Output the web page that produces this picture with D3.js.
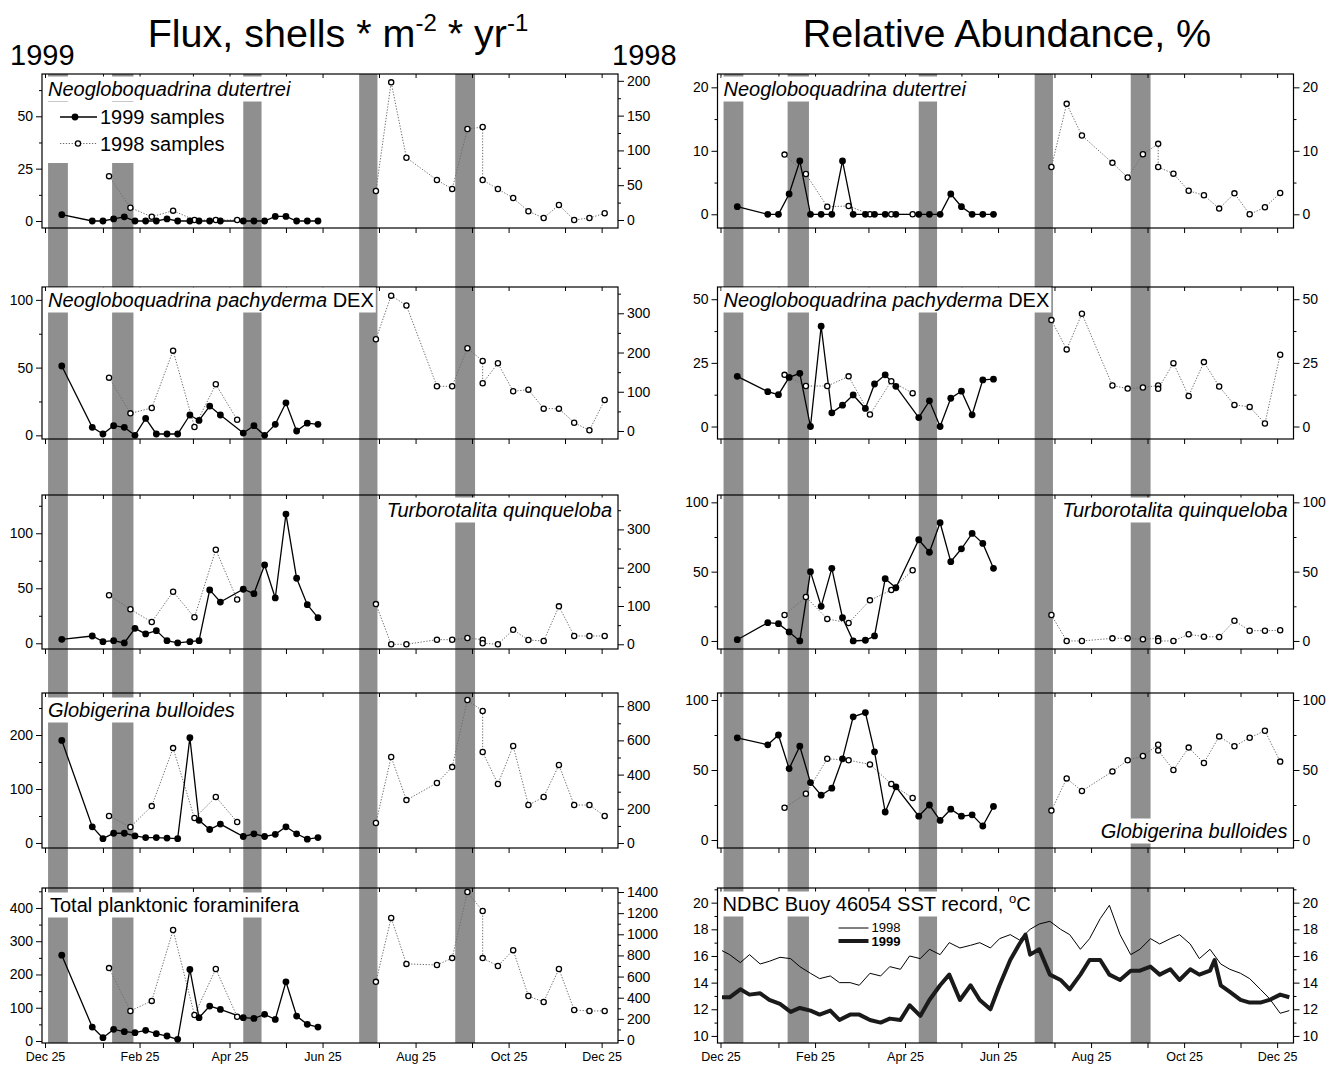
<!DOCTYPE html>
<html>
<head>
<meta charset="utf-8">
<script src="https://cdn.jsdelivr.net/npm/d3@7"></script>
<style>
body{margin:0;background:#fff}
text{font-family:"Liberation Sans",Arial,sans-serif}
</style>
</head>
<body>
<svg id="chart" width="1335" height="1065"></svg>
<script>

var parse = d3.timeParse("%Y-%m-%d");

// sample dates (1999 trap) and 1998 trap, 1998 is moved one year to share the axis
var dates99 = ["1999-01-05","1999-01-25","1999-02-01","1999-02-08","1999-02-15","1999-02-22","1999-03-01","1999-03-08",
	"1999-03-15","1999-03-22","1999-03-30","1999-04-05","1999-04-12","1999-04-19","1999-05-04","1999-05-11",
	"1999-05-18","1999-05-25","1999-06-01","1999-06-08","1999-06-15","1999-06-22"];
var dates98 = ["1998-02-05","1998-02-19","1998-03-05","1998-03-19","1998-04-02","1998-04-16","1998-04-30",
	"1998-07-30","1998-08-09","1998-08-19","1998-09-08","1998-09-18","1998-09-28","1998-10-08","1998-10-08",
	"1998-10-18","1998-10-28","1998-11-07","1998-11-17","1998-11-27","1998-12-07","1998-12-17","1998-12-27"];

// grey bands
var bands = [["1998-12-27","1999-01-09"],["1999-02-07","1999-02-21"],["1999-05-04","1999-05-16"],
	["1999-07-19","1999-07-31"],["1999-09-20","1999-10-03"]];

// flux, shells m-2 yr-1
var dut_flux99 = [3,0,0,1,2,0,0,0,1,0,0,0,0,0,0,0,0,2.2,2.2,0,0,0];
var dut_flux98 = [63,17.7,4.7,13.4,0,0,0,41.7,197.8,89.5,57.5,44.5,130.7,133.6,57.5,44.5,31.6,12.5,2.9,21.6,0,2.9,9.6];
var pac_flux99 = [51.2,5.9,1,7.1,5.9,0,12.5,1,1,1,15,11,21.6,15,1.7,7.1,0,8.1,24,3.2,9,8.1];
var pac_flux98 = [136,45,58.7,204.8,10.2,119,28.8,234,345,320,114,114,211,178.6,121.7,172.7,101.3,105.4,57,57,21.2,1.8,79];
var qui_flux99 = [3.6,6.6,1.5,2.4,0.3,13.6,8.5,11.5,2.4,0.3,1.5,2.4,48.5,37.5,49.1,45.1,71.2,41.2,117.5,59.1,35.1,23.3];
var qui_flux98 = [128,91.4,58.2,137.3,70.5,247,117,105,0,0,12,12,16.4,12,2.6,0,38,11.2,8.6,99,21.7,21.7,21.7];
var bul_flux99 = [190,30,8,18,18,13,10,10,9,8,195,42,25,35,12,17,12,16,30,17,7,10];
var bul_flux98 = [158,94,216,555,146,269,123,117,503,251,351,444,836,772,532,345,567,222,269,456,222,222,158];
var tot_flux99 = [258,42,10,35,28,25,32,22,15,5,215,70,105,95,70,68,80,65,178,75,50,42];
var tot_flux98 = [680,275,370,1040,237,672,220,550,1155,720,710,775,1400,1220,775,700,850,416,360,672,284,275,275];

// relative abundance, %
var dut_rel99 = [1.2,0,0,3.2,8.4,0,0,0,8.4,0,0,0,0,0,0,0,0,3.2,1.2,0,0,0];
var dut_rel98 = [9.4,6.35,1.2,1.3,0,0,0,7.45,17.4,12.4,8.1,5.8,9.45,11.1,7.45,6.4,3.7,3.0,0.9,3.3,0,1.1,3.35];
var pac_rel99 = [19.7,13.7,12.5,19.3,20.9,0,39.4,5.4,8.4,12.4,7.1,16.7,20.3,15.8,3.5,10.1,0,11.1,13.9,4.6,18.3,18.6];
var pac_rel98 = [20.3,15.9,15.9,19.7,4.7,17.8,13.1,41.8,30.3,44.3,16.1,14.9,15.3,16.1,14.8,24.9,12,25.3,15.7,8.5,7.7,1.2,28.2];
var qui_rel99 = [0.9,13.2,12.5,6.5,0,50,25,52.4,16.8,0,0.5,3.6,44.9,38.4,73,64,85.3,57.2,66.5,77.6,70.4,52.4];
var qui_rel98 = [18.7,31.7,15.9,13,29.3,36.8,51,18.7,0,0,1.9,1.9,1.2,1.9,0,0,4.8,3.1,2.9,14.6,7.4,7.4,7.7];
var bul_rel99 = [73,68,75,51,67,41,32,37,58,88,91,63,20,38,17,25,14,22,17,18,10,24];
var bul_rel98 = [23,33,58,57,54,40,30,21,44,35,49,57,60,68,64,50,66,55,74,67,73,78,56];

// NDBC buoy 46054 SST, days after Dec 25 and degrees C
var sst98_day = [1,6,13,19,26,32,39,46,52,59,65,72,78,85,91,98,105,111,118,124,131,137,144,150,157,164,170,177,183,190,
	196,203,209,216,223,229,236,242,249,255,262,269,275,282,288,295,301,308,314,321,328,334,341,347,354,360,367,373];
var sst98 = [16.4,16.1,15.5,16.1,15.4,15.6,15.9,15.8,15.2,14.7,14.3,14.5,14.0,14.0,13.8,14.7,14.5,15.2,15.0,16.0,
	15.8,16.5,16.1,17.0,16.6,16.8,17.0,16.6,17.3,17.6,17.2,18.0,18.4,18.6,18.0,17.6,16.5,17.3,18.8,19.8,
	17.6,16.1,16.5,17.3,16.9,17.3,17.6,16.9,15.8,16.5,15.4,15.0,14.7,14.3,13.5,12.8,11.7,11.9];
var sst99_day = [1,6,13,19,26,32,39,46,52,59,65,72,78,85,91,98,105,111,118,124,131,137,144,150,157,164,170,177,183,190,
	196,200,203,209,216,223,229,236,242,249,255,262,269,275,282,288,295,301,308,314,321,324,328,334,341,347,354,360,367,373];
var sst99 = [12.9,12.9,13.5,13.1,13.2,12.7,12.4,11.8,12.1,11.9,11.6,11.9,11.2,11.6,11.6,11.2,11.0,11.3,11.2,12.3,
	11.5,12.7,13.8,14.6,12.7,13.8,12.7,12.0,13.8,15.7,16.9,17.6,16.1,16.5,14.6,14.2,13.5,14.6,15.7,15.7,
	14.6,14.2,14.9,14.9,15.2,14.6,15.0,14.2,15.0,14.6,14.9,15.7,13.8,13.3,12.7,12.5,12.5,12.7,13.1,12.9];

var xticks = ["1998-12-25","1999-02-25","1999-04-25","1999-06-25","1999-08-25","1999-10-25","1999-12-25"];
var xminor = ["1999-02-01","1999-04-01","1999-06-01","1999-08-01","1999-10-01","1999-12-01"];
var xlabels = ["Dec 25","Feb 25","Apr 25","Jun 25","Aug 25","Oct 25","Dec 25"];

/////////////////////////////////////////

var svg = d3.select("#chart");
var W = 576;
var colX = [42, 717.5];
var rows = [[74,228],[287,439],[495,649],[693,848],[888,1043]];
var bandcolor = "#8f8f8f";

var x = d3.scaleTime().domain([parse("1998-12-25"), parse("1999-12-25")]).range([3, 3 + 365 * 1.525]);

function shift(s){ return d3.timeYear.offset(parse(s), 1); }
var d99 = dates99.map(parse), d98 = dates98.map(shift);

// titles
var t1 = svg.append("text").attr("x",338).attr("y",47).attr("text-anchor","middle").style("font-size","39.5px");
t1.append("tspan").text("Flux, shells * m");
t1.append("tspan").attr("dy",-16).style("font-size","24px").text("-2");
t1.append("tspan").attr("dy",16).text(" * yr");
t1.append("tspan").attr("dy",-16).style("font-size","24px").text("-1");
svg.append("text").attr("x",1007).attr("y",47).attr("text-anchor","middle").style("font-size","39.5px").text("Relative Abundance, %");
svg.append("text").attr("x",10).attr("y",65).style("font-size","29px").text("1999");
svg.append("text").attr("x",612).attr("y",65).style("font-size","29px").text("1998");

// grey bands behind both columns
colX.forEach(function(cx){
	svg.append("g").selectAll("rect").data(bands).enter().append("rect")
		.attr("x", function(d){ return cx + x(parse(d[0])); })
		.attr("width", function(d){ return x(parse(d[1])) - x(parse(d[0])); })
		.attr("y", rows[0][0]).attr("height", rows[4][1] - rows[0][0])
		.attr("fill", bandcolor);
});

function minors(t){
	var out = [];
	for (var i = 0; i < t.length; i++){
		var step = t[1] - t[0];
		out.push(t[i] + step / 2);
		if (i == 0) out.push(t[0] - step / 2);
	}
	return out;
}

function label(g, lx, ly, parts, anchor, size){
	var lg = g.append("g");
	var t = lg.append("text").attr("x",lx).attr("y",ly).attr("text-anchor",anchor || "start")
		.style("font-size",(size || 20) + "px");
	parts.forEach(function(p){
		t.append("tspan").style("font-style", p[1] ? "italic" : "normal").text(p[0]);
	});
	var b = t.node().getBBox();
	lg.insert("rect","text").attr("x",b.x-2).attr("y",b.y-1.5).attr("width",b.width+4).attr("height",b.height+3).attr("fill","#fff");
	return lg;
}

function yaxes(g, y, ticks, side, offs, fmt){
	var mk = side == "left" ? d3.axisLeft : d3.axisRight;
	var ax = mk(y).tickValues(ticks).tickSize(6).tickPadding(3).tickFormat(fmt || d3.format("d"));
	var a = g.append("g").attr("transform","translate("+offs+",0)").call(ax);
	var m = g.append("g").attr("transform","translate("+offs+",0)")
		.call(mk(y).tickValues(minors(ticks).filter(function(v){ return v > y.domain()[0] && v < y.domain()[1]; })).tickSize(3).tickFormat(""));
	[a,m].forEach(function(s){
		s.select(".domain").remove();
		s.selectAll("line").attr("stroke","#000");
		s.selectAll("text").style("font-size","14px").attr("fill","#000");
	});
}

function xaxes(g, top, bot, withLabels){
	var b = g.append("g").attr("transform","translate(0,"+bot+")")
		.call(d3.axisBottom(x).tickValues(xticks.map(parse).concat(xminor.map(parse))).tickSize(5).tickPadding(4)
			.tickFormat(function(d,i){ return withLabels && i < xlabels.length ? xlabels[i] : ""; }));
	var t = g.append("g").attr("transform","translate(0,"+top+")")
		.call(d3.axisTop(x).tickValues(xticks.map(parse).concat(xminor.map(parse))).tickSize(-4).tickFormat(""));
	[b,t].forEach(function(s){
		s.select(".domain").remove();
		s.selectAll("line").attr("stroke","#000");
		s.selectAll("text").style("font-size","12.5px").attr("fill","#000");
	});
}

function segs(dates, vals){
	var out = [], cur = [];
	dates.forEach(function(d,i){
		if (cur.length && (d - cur[cur.length-1].d) > 45 * 864e5){ out.push(cur); cur = []; }
		cur.push({d:d, v:vals[i]});
	});
	out.push(cur);
	return out;
}

function series(g, y99, y98, v99, v98){
	var l99 = d3.line().x(function(d){ return x(d.d); }).y(function(d){ return y99(d.v); });
	var l98 = d3.line().x(function(d){ return x(d.d); }).y(function(d){ return y98(d.v); });
	segs(d98, v98).forEach(function(s){
		g.append("path").datum(s).attr("d",l98).attr("fill","none").attr("stroke","#6e6e6e")
			.attr("stroke-width",1).attr("stroke-dasharray","1.3,1.6");
	});
	var p99 = segs(d99, v99)[0];
	g.append("path").datum(p99).attr("d",l99).attr("fill","none").attr("stroke","#000").attr("stroke-width",1.3);
	g.append("g").selectAll("circle").data(segs(d98, v98).flat()).enter().append("circle")
		.attr("cx",function(d){ return x(d.d); }).attr("cy",function(d){ return y98(d.v); })
		.attr("r",2.6).attr("fill","#fff").attr("stroke","#000").attr("stroke-width",1.3);
	g.append("g").selectAll("circle").data(p99).enter().append("circle")
		.attr("cx",function(d){ return x(d.d); }).attr("cy",function(d){ return y99(d.v); })
		.attr("r",3.4).attr("fill","#000");
}

function frame(g, top, bot){
	g.append("rect").attr("x",0).attr("y",top).attr("width",W).attr("height",bot-top)
		.attr("fill","none").attr("stroke","#000").attr("stroke-width",1.2);
}

// left column: flux (1999 left axis, 1998 right axis)
var leftPanels = [
	{d1:[-3.34,70.2], d2:[-11.5,209.8], t1:[0,25,50], t2:[0,50,100,150,200], v99:dut_flux99, v98:dut_flux98,
		lab:[["Neogloboquadrina dutertrei",1]], lx:6, ly:96, anchor:"start"},
	{d1:[-2.7,109.5], d2:[-20.4,367], t1:[0,50,100], t2:[0,100,200,300], v99:pac_flux99, v98:pac_flux98,
		lab:[["Neogloboquadrina pachyderma",1],[" DEX",0]], lx:6, ly:307, anchor:"start"},
	{d1:[-5.2,134.8], d2:[-12.3,389.8], t1:[0,50,100], t2:[0,100,200,300], v99:qui_flux99, v98:qui_flux98,
		lab:[["Turborotalita quinqueloba",1]], lx:570, ly:517, anchor:"end"},
	{d1:[-9.3,277.8], d2:[-29,877], t1:[0,100,200], t2:[0,200,400,600,800], v99:bul_flux99, v98:bul_flux98,
		lab:[["Globigerina bulloides",1]], lx:6, ly:717, anchor:"start"},
	{d1:[-6,460], d2:[-28.4,1438], t1:[0,100,200,300,400], t2:[0,200,400,600,800,1000,1200,1400], v99:tot_flux99, v98:tot_flux98,
		lab:[["Total planktonic foraminifera",0]], lx:8, ly:912, anchor:"start"}
];

// right column: relative abundance, one scale
var rightPanels = [
	{d1:[-2.16,22.1], t1:[0,10,20], v99:dut_rel99, v98:dut_rel98, lab:[["Neogloboquadrina dutertrei",1]], lx:6, ly:96, anchor:"start"},
	{d1:[-4.9,54.8], t1:[0,25,50], v99:pac_rel99, v98:pac_rel98, lab:[["Neogloboquadrina pachyderma",1],[" DEX",0]], lx:6, ly:307, anchor:"start"},
	{d1:[-5.8,105.3], t1:[0,50,100], v99:qui_rel99, v98:qui_rel98, lab:[["Turborotalita quinqueloba",1]], lx:570, ly:517, anchor:"end"},
	{d1:[-5.7,105], t1:[0,50,100], v99:bul_rel99, v98:bul_rel98, lab:[["Globigerina bulloides",1]], lx:570, ly:838, anchor:"end"}
];

leftPanels.forEach(function(p,i){
	var g = svg.append("g").attr("transform","translate("+colX[0]+",0)");
	var top = rows[i][0], bot = rows[i][1];
	var y1 = d3.scaleLinear().domain(p.d1).range([bot, top]);
	var y2 = d3.scaleLinear().domain(p.d2).range([bot, top]);
	frame(g, top, bot);
	yaxes(g, y1, p.t1, "left", 0);
	yaxes(g, y2, p.t2, "right", W);
	xaxes(g, top, bot, i == 4);
	series(g, y1, y2, p.v99, p.v98);
	label(g, p.lx, p.ly, p.lab, p.anchor);
	if (i == 0){
		// legend
		var lg = g.append("g");
		lg.append("rect").attr("x",2).attr("y",102).attr("width",192).attr("height",61).attr("fill","#fff");
		lg.append("line").attr("x1",18).attr("x2",55).attr("y1",117).attr("y2",117).attr("stroke","#000").attr("stroke-width",1.3);
		lg.append("circle").attr("cx",33).attr("cy",117).attr("r",3.4).attr("fill","#000");
		lg.append("line").attr("x1",18).attr("x2",55).attr("y1",143.5).attr("y2",143.5).attr("stroke","#6e6e6e").attr("stroke-dasharray","1.3,1.6");
		lg.append("circle").attr("cx",36).attr("cy",143.5).attr("r",2.6).attr("fill","#fff").attr("stroke","#000").attr("stroke-width",1.3);
		lg.append("text").attr("x",58).attr("y",124).style("font-size","20px").text("1999 samples");
		lg.append("text").attr("x",58).attr("y",151).style("font-size","20px").text("1998 samples");
	}
});

rightPanels.forEach(function(p,i){
	var g = svg.append("g").attr("transform","translate("+colX[1]+",0)");
	var top = rows[i][0], bot = rows[i][1];
	var y1 = d3.scaleLinear().domain(p.d1).range([bot, top]);
	frame(g, top, bot);
	yaxes(g, y1, p.t1, "left", 0);
	yaxes(g, y1, p.t1, "right", W);
	xaxes(g, top, bot, false);
	series(g, y1, y1, p.v99, p.v98);
	label(g, p.lx, p.ly, p.lab, p.anchor);
});

// SST panel
(function(){
	var g = svg.append("g").attr("transform","translate("+colX[1]+",0)");
	var top = rows[4][0], bot = rows[4][1];
	var y = d3.scaleLinear().domain([9.47,21.1]).range([bot, top]);
	var sd = function(n){ return d3.timeDay.offset(parse("1998-12-25"), n); };
	frame(g, top, bot);
	yaxes(g, y, [10,12,14,16,18,20], "left", 0);
	yaxes(g, y, [10,12,14,16,18,20], "right", W);
	xaxes(g, top, bot, true);
	var line = d3.line().curve(d3.curveLinear).x(function(d){ return x(sd(d[0])); }).y(function(d){ return y(d[1]); });
	g.append("path").datum(d3.zip(sst98_day, sst98)).attr("d",line).attr("fill","none").attr("stroke","#000").attr("stroke-width",1);
	g.append("path").datum(d3.zip(sst99_day, sst99)).attr("d",line).attr("fill","none").attr("stroke","#1a1a1a")
		.attr("stroke-width",4).attr("stroke-linejoin","round");
	var lg = label(g, 5, 911, [["NDBC Buoy 46054 SST record, ",0]], "start");
	var tt = lg.select("text");
	tt.append("tspan").attr("dy",-8).style("font-size","13px").text("o");
	tt.append("tspan").attr("dy",8).text("C");
	var b = tt.node().getBBox();
	lg.select("rect").attr("width", b.width + 4);
	g.append("line").attr("x1",121).attr("x2",151).attr("y1",928).attr("y2",928).attr("stroke","#000").attr("stroke-width",1);
	g.append("line").attr("x1",121).attr("x2",151).attr("y1",941).attr("y2",941).attr("stroke","#1a1a1a").attr("stroke-width",4);
	g.append("text").attr("x",154).attr("y",932).style("font-size","13px").text("1998");
	g.append("text").attr("x",154).attr("y",946).style("font-size","13px").style("font-weight","bold").text("1999");
})();

</script>
</body>
</html>
